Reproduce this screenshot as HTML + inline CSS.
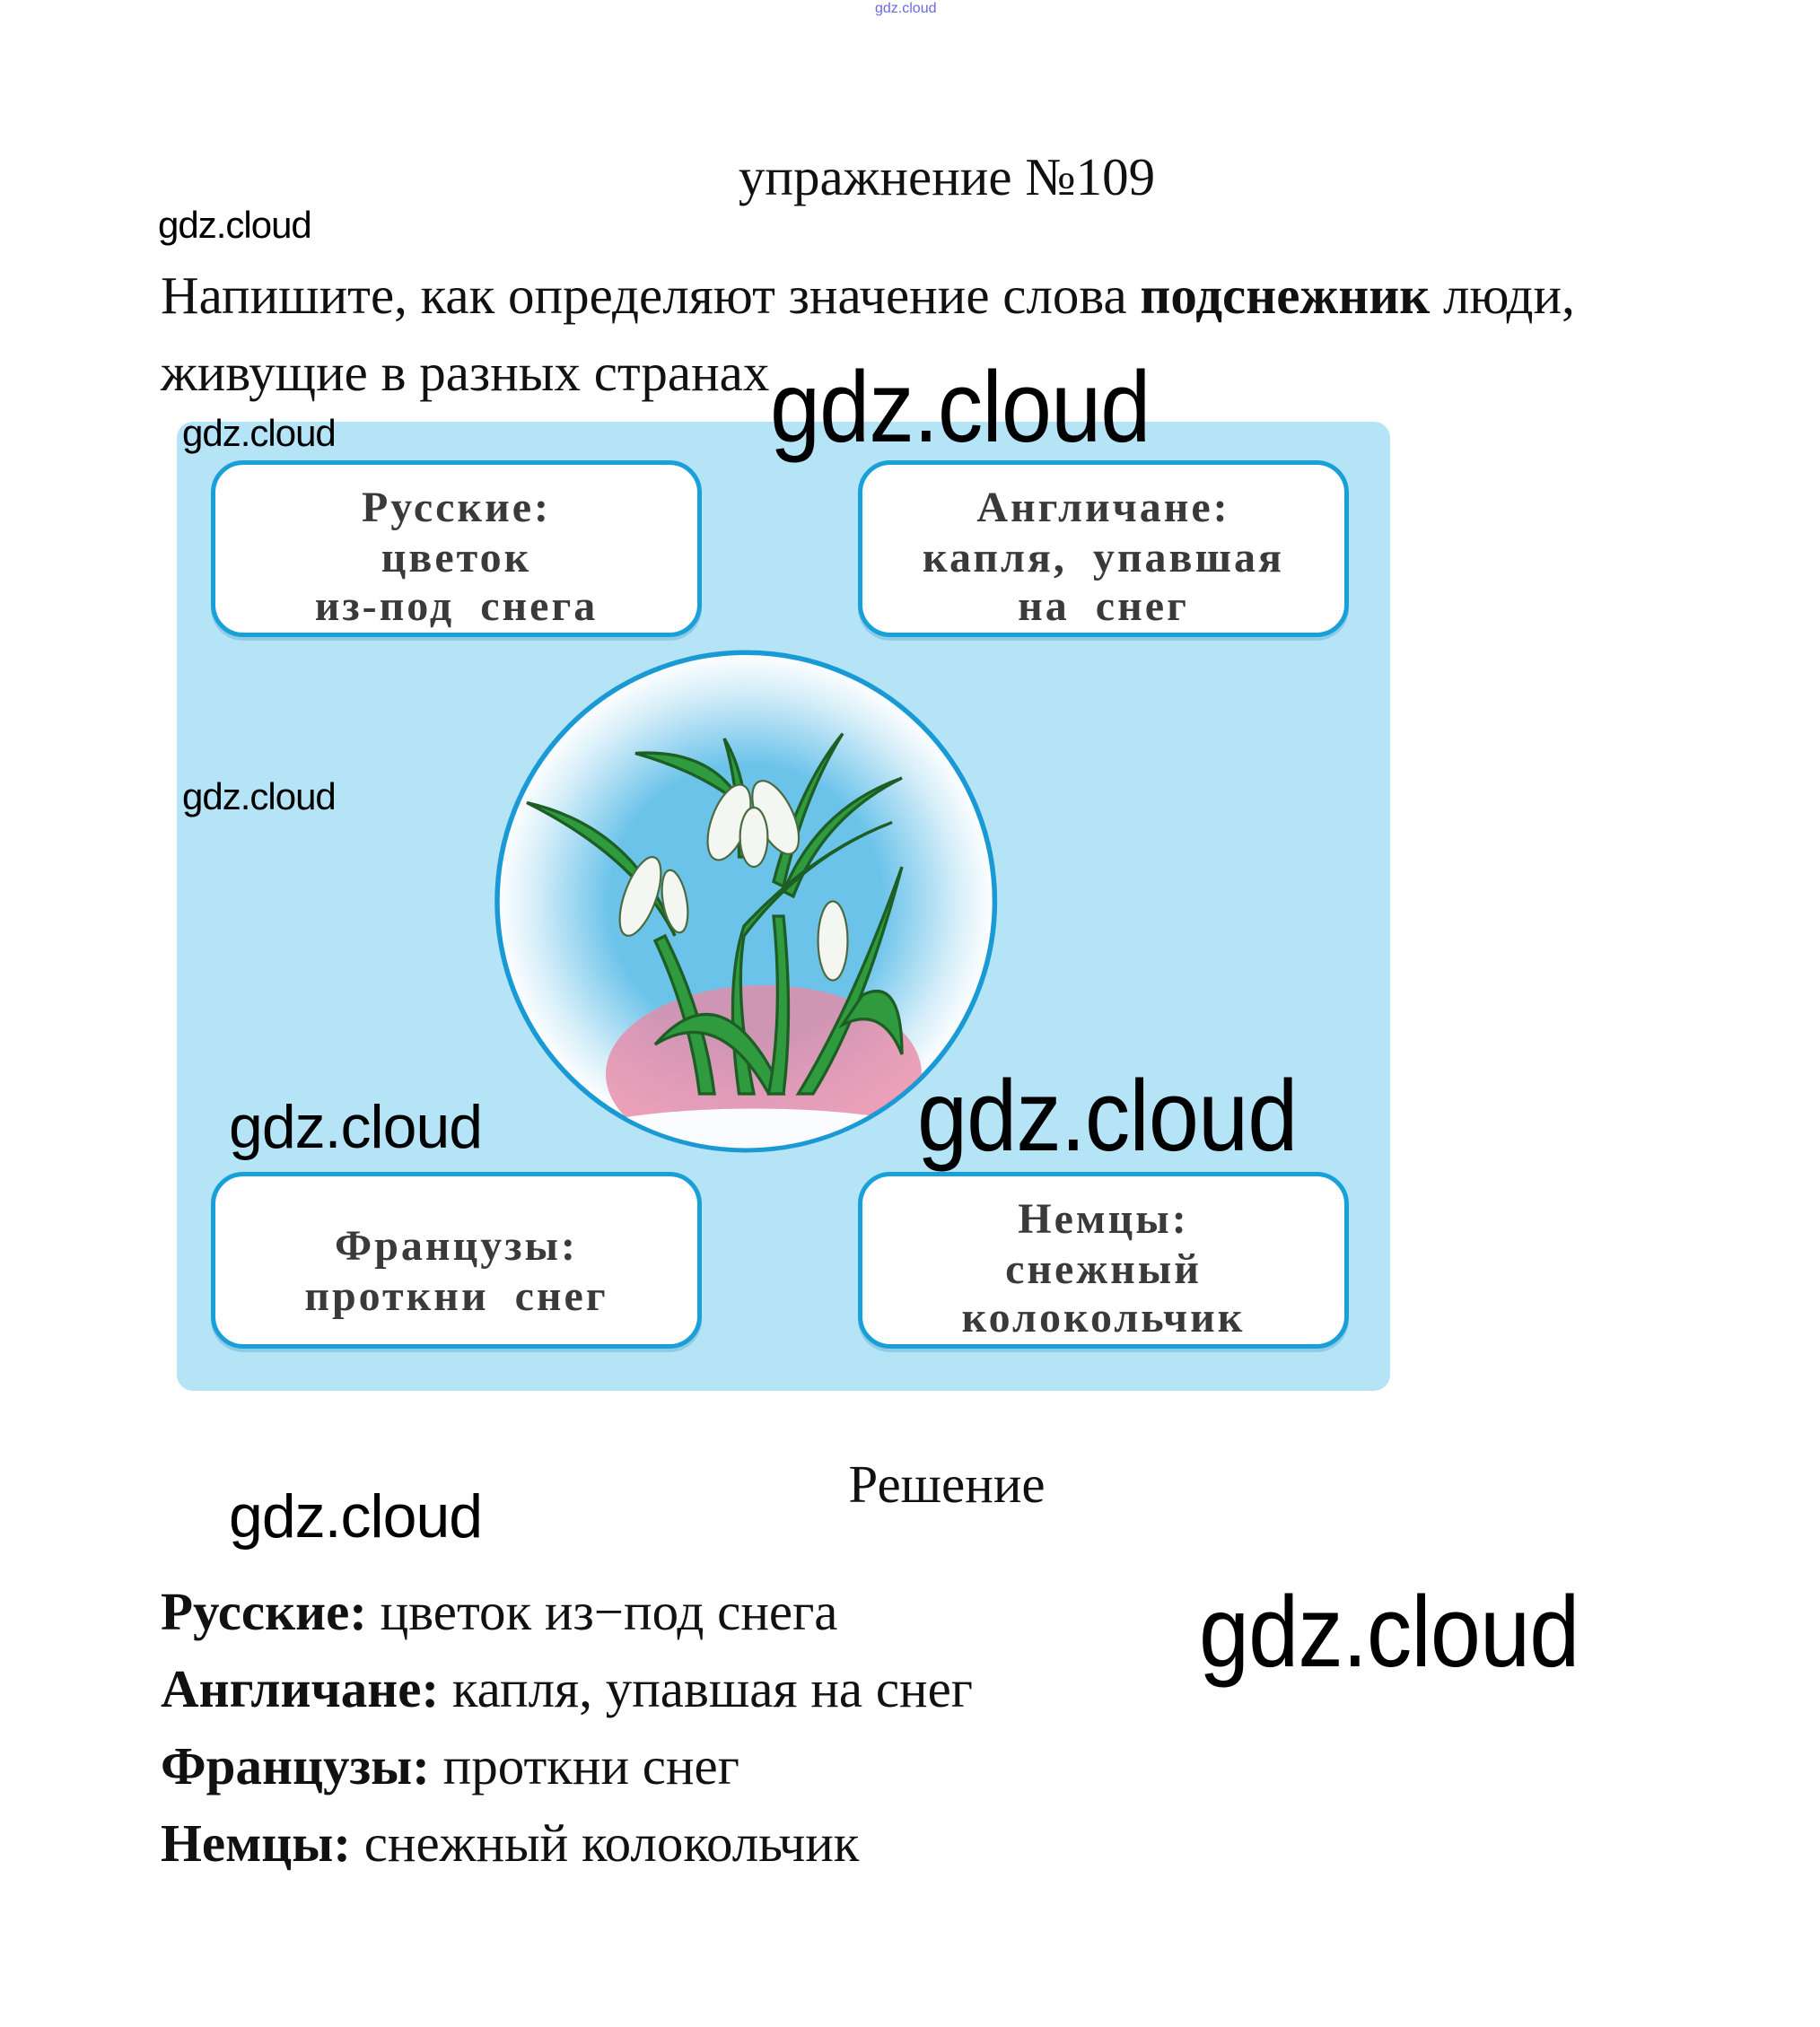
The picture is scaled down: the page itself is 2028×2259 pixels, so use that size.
<!DOCTYPE html>
<html><head><meta charset="utf-8"><style>
body{margin:0;width:2028px;height:2259px;background:#fff;position:relative;overflow:hidden;font-family:"Liberation Serif",serif;}
.a{position:absolute;white-space:nowrap;line-height:1;}
.w{font-family:"Liberation Sans","DejaVu Sans",sans-serif;color:#000;letter-spacing:-1px;transform-origin:0 0;}
.n{transform:scaleX(0.9);}
.box{position:absolute;width:547px;height:197px;border:5px solid #1aa0d8;border-radius:36px;background:#fff;box-sizing:border-box;box-shadow:0 4px 0 #8fcbe6;}
.bt{position:absolute;left:0;right:0;text-align:center;font-family:"Liberation Serif",serif;font-weight:bold;font-size:48px;color:#3a3a3a;letter-spacing:3px;word-spacing:14px;}
.s{font-size:59px;color:#111;}
</style></head><body>
<div class="a" style="left:975px;top:2px;font-size:16px;color:#6a6ae0;font-family:'Liberation Sans',sans-serif;">gdz.cloud</div>
<div class="a" style="left:0;width:2110px;text-align:center;top:168px;font-size:59px;color:#111;">упражнение №109</div>
<div class="a w" style="left:176px;top:230px;font-size:42px;">gdz.cloud</div>
<div class="a s" style="left:179px;top:300px;">Напишите, как определяют значение слова <b>подснежник</b> люди,</div>
<div class="a s" style="left:179px;top:386px;">живущие в разных странах</div>

<div style="position:absolute;left:197px;top:470px;width:1352px;height:1080px;background:#b5e4f7;border-radius:18px;"></div>

<div class="box" style="left:235px;top:513px;"><div class="bt" style="top:20px;">Русские:</div><div class="bt" style="top:76px;">цветок</div><div class="bt" style="top:130px;">из-под снега</div></div>
<div class="box" style="left:956px;top:513px;"><div class="bt" style="top:20px;">Англичане:</div><div class="bt" style="top:76px;">капля, упавшая</div><div class="bt" style="top:130px;">на снег</div></div>
<div class="box" style="left:235px;top:1306px;"><div class="bt" style="top:50px;">Французы:</div><div class="bt" style="top:106px;">проткни снег</div></div>
<div class="box" style="left:956px;top:1306px;"><div class="bt" style="top:20px;">Немцы:</div><div class="bt" style="top:76px;">снежный</div><div class="bt" style="top:130px;">колокольчик</div></div>

<svg style="position:absolute;left:543px;top:713px" width="638" height="594" viewBox="0 0 580 540">
<defs>
<radialGradient id="g" cx="0.5" cy="0.5" r="0.5"><stop offset="0.55" stop-color="#6cc3ea"/><stop offset="0.85" stop-color="#d6eef9"/><stop offset="1" stop-color="#fff"/></radialGradient>
<clipPath id="c"><circle cx="262" cy="265" r="250"/></clipPath>
</defs>
<circle cx="262" cy="265" r="252" fill="url(#g)" stroke="#1a9ad4" stroke-width="5"/>
<g clip-path="url(#c)">
<ellipse cx="280" cy="440" rx="160" ry="90" fill="#e98aa8" opacity="0.8"/>
<ellipse cx="270" cy="520" rx="220" ry="45" fill="#fafcff"/>
<g fill="#2f9a3e" stroke="#1d5e25" stroke-width="3">
<path d="M40 165 Q150 190 190 300 Q150 220 40 165Z"/>
<path d="M150 115 Q230 110 260 170 Q220 135 150 115Z"/>
<path d="M240 100 Q265 140 265 220 L255 220 Q255 150 240 100Z"/>
<path d="M360 95 Q320 160 300 250 L290 245 Q315 150 360 95Z"/>
<path d="M420 140 Q340 180 310 260 L300 255 Q335 170 420 140Z"/>
<path d="M410 185 Q320 220 260 300 Q250 360 270 460 L255 460 Q240 350 260 290 Q330 215 410 185Z"/>
<path d="M180 300 Q220 380 230 460 L215 460 Q205 380 170 305Z"/>
<path d="M170 410 Q240 330 300 460 L285 460 Q235 370 170 410Z"/>
<path d="M300 280 Q310 380 300 460 L285 460 Q300 380 290 280Z"/>
<path d="M420 230 Q380 380 330 460 L315 460 Q370 370 420 230Z"/>
<path d="M380 360 Q420 340 420 420 Q400 370 360 390Z"/>
</g>
<g fill="#f4f6f2" stroke="#4a6a40" stroke-width="2">
<ellipse cx="245" cy="185" rx="18" ry="40" transform="rotate(20 245 185)"/>
<ellipse cx="292" cy="180" rx="18" ry="40" transform="rotate(-25 292 180)"/>
<ellipse cx="270" cy="200" rx="14" ry="30"/>
<ellipse cx="155" cy="260" rx="16" ry="42" transform="rotate(20 155 260)"/>
<ellipse cx="190" cy="265" rx="12" ry="32" transform="rotate(-10 190 265)"/>
<ellipse cx="350" cy="305" rx="15" ry="40"/>
</g>
</g>
</svg>

<div class="a w" style="left:203px;top:462px;font-size:42px;">gdz.cloud</div>
<div class="a w n" style="left:858px;top:398px;font-size:112px;">gdz.cloud</div>
<div class="a w" style="left:203px;top:867px;font-size:42px;">gdz.cloud</div>
<div class="a w" style="left:255px;top:1222px;font-size:68px;">gdz.cloud</div>
<div class="a w n" style="left:1022px;top:1188px;font-size:112px;">gdz.cloud</div>

<div class="a" style="left:0;width:2110px;text-align:center;top:1625px;font-size:59px;color:#111;">Решение</div>
<div class="a w" style="left:255px;top:1656px;font-size:68px;">gdz.cloud</div>
<div class="a w n" style="left:1336px;top:1763px;font-size:112px;">gdz.cloud</div>

<div class="a s" style="left:179px;top:1767px;"><b>Русские:</b> цветок из−под снега</div>
<div class="a s" style="left:179px;top:1853px;"><b>Англичане:</b> капля, упавшая на снег</div>
<div class="a s" style="left:179px;top:1939px;"><b>Французы:</b> проткни снег</div>
<div class="a s" style="left:179px;top:2025px;"><b>Немцы:</b> снежный колокольчик</div>
</body></html>
